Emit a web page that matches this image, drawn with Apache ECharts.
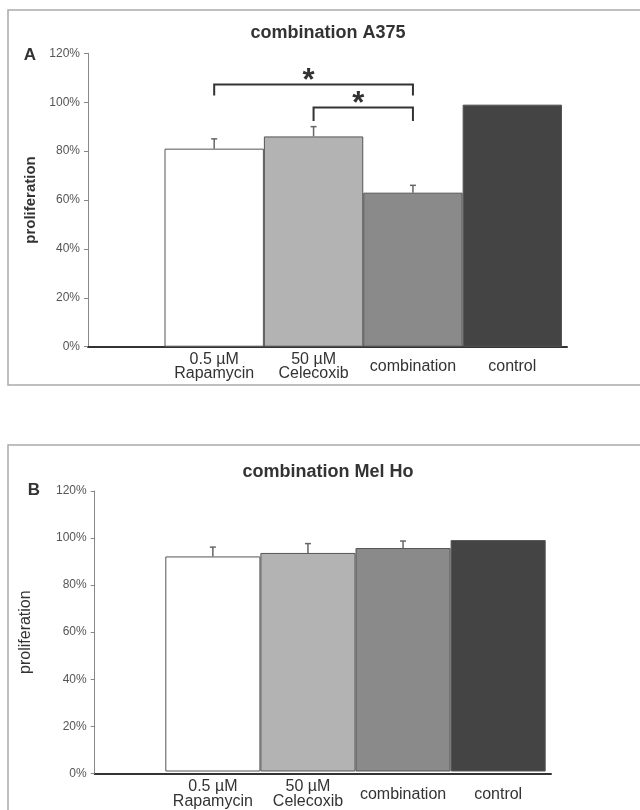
<!DOCTYPE html>
<html>
<head>
<meta charset="utf-8">
<style>
  html, body { margin: 0; padding: 0; background: #fff; }
  #chart { width: 640px; height: 810px; }
</style>
<script src="https://cdn.jsdelivr.net/npm/echarts@6/dist/echarts.min.js"></script>
</head>
<body>
<div id="chart"></div>
<script>
// Treatment groups (x axis)
const categories = ['0.5 µM\nRapamycin', '50 µM\nCelecoxib', 'combination', 'control'];
const yTicks = [0, 20, 40, 60, 80, 100, 120];

// Panel A: A375 cells, proliferation (% of control) and upper error
const a375Values = [81, 86, 63, 99];
const a375Errors = [4, 4, 3, 0];
// Significance brackets: [from group, to group, end level, bar level]
const a375Brackets = [[0, 2, 102.7, 107.2], [1, 2, 92.3, 97.8]];

// Panel B: Mel Ho cells
const melHoValues = [92, 93.5, 95.6, 99];
const melHoErrors = [4, 4, 3, 0];

const barColors = ['#ffffff', '#b3b3b3', '#8a8a8a', '#444444'];
const FONT = 'Liberation Sans, Arial, sans-serif';

const chart = echarts.init(document.getElementById('chart'));

function barData(values) {
  return values.map((v, i) => ({ value: v, itemStyle: { color: barColors[i] } }));
}

function errorRender(params, api) {
  const x = api.value(0);
  const v = api.value(1);
  const e = api.value(2);
  if (!e) return null;
  const p0 = api.coord([x, v]);
  const p1 = api.coord([x, v + e]);
  const style = { stroke: '#666', lineWidth: 1.5 };
  return {
    type: 'group',
    children: [
      { type: 'line', shape: { x1: p0[0], y1: p0[1], x2: p1[0], y2: p1[1] }, style },
      { type: 'line', shape: { x1: p1[0] - 3, y1: p1[1], x2: p1[0] + 3, y2: p1[1] }, style }
    ]
  };
}

function bracketRender(params, api) {
  const a = api.value(0), b = api.value(1), lo = api.value(2), hi = api.value(3);
  const pa = api.coord([a, lo]), pb = api.coord([b, lo]);
  const top = api.coord([a, hi])[1];
  return {
    type: 'group',
    children: [
      {
        type: 'polyline',
        shape: { points: [[pa[0], pa[1]], [pa[0], top], [pb[0], top], [pb[0], pb[1]]] },
        style: { stroke: '#333', lineWidth: 2, fill: null }
      },
      {
        type: 'text',
        x: (pa[0] + pb[0]) / 2 - 5,
        y: top - 3,
        style: {
          text: '*', fontSize: 31, fontWeight: 'bold', fontFamily: FONT,
          fill: '#333', align: 'center', verticalAlign: 'middle'
        }
      }
    ]
  };
}

// Panel geometry
const panels = [
  { top: 53.3, bottom: 346.7, axisLeft: 88, axisRight: 567, barLeft: 164.5, barRight: 562,
    labelMargin: 20, lineHeight: 14 },
  { top: 491, bottom: 773.3, axisLeft: 94.7, axisRight: 551, barLeft: 165.3, barRight: 545.7,
    labelMargin: 23, lineHeight: 15 }
];

const grids = [], xAxes = [], yAxes = [];
panels.forEach((p, k) => {
  // axis frame grid
  grids.push({ left: p.axisLeft, top: p.top, width: p.axisRight - p.axisLeft, height: p.bottom - p.top });
  // bar grid
  grids.push({ left: p.barLeft, top: p.top, width: p.barRight - p.barLeft, height: p.bottom - p.top });

  xAxes.push({
    gridIndex: 2 * k, type: 'value', min: 0, max: 1,
    axisLine: { show: true, lineStyle: { color: '#333', width: 2 } },
    axisTick: { show: false }, axisLabel: { show: false }, splitLine: { show: false }
  });
  xAxes.push({
    gridIndex: 2 * k + 1, type: 'category', data: categories,
    axisLine: { show: false }, axisTick: { show: false },
    axisLabel: {
      interval: 0, margin: p.labelMargin, color: '#333', fontFamily: FONT,
      fontSize: 16, lineHeight: p.lineHeight, verticalAlign: 'middle', align: 'center'
    }
  });
  yAxes.push({
    gridIndex: 2 * k, type: 'value', min: 0, max: 120, interval: 20,
    name: 'proliferation', nameLocation: 'middle', nameGap: k === 0 ? 50 : 61,
    nameTextStyle: { fontFamily: FONT, fontSize: k === 0 ? 15 : 16, fontWeight: k === 0 ? 'bold' : 'normal', color: '#333' },
    axisLine: { show: true, lineStyle: { color: '#888', width: 1 } },
    axisTick: { show: true, length: 4, inside: false, lineStyle: { color: '#888' } },
    axisLabel: { formatter: '{value}%', fontFamily: FONT, fontSize: 12, color: '#555', margin: 8 },
    splitLine: { show: false }
  });
  yAxes.push({
    gridIndex: 2 * k + 1, type: 'value', min: 0, max: 120, interval: 20, show: false
  });
});

const series = [
  {
    type: 'bar', xAxisIndex: 1, yAxisIndex: 1, data: barData(a375Values),
    barWidth: '100%', itemStyle: { borderColor: '#555', borderWidth: 1 }, silent: true
  },
  {
    type: 'custom', xAxisIndex: 1, yAxisIndex: 1, renderItem: errorRender,
    data: a375Values.map((v, i) => [i, v, a375Errors[i]]), z: 5
  },
  {
    type: 'custom', xAxisIndex: 1, yAxisIndex: 1, renderItem: bracketRender,
    data: a375Brackets, z: 6
  },
  {
    type: 'bar', xAxisIndex: 3, yAxisIndex: 3, data: barData(melHoValues),
    barWidth: '100%', itemStyle: { borderColor: '#555', borderWidth: 1 }, silent: true
  },
  {
    type: 'custom', xAxisIndex: 3, yAxisIndex: 3, renderItem: errorRender,
    data: melHoValues.map((v, i) => [i, v, melHoErrors[i]]), z: 5
  }
];

const titleStyle = {
  fontFamily: FONT, fontSize: 18, fontWeight: 'bold', fill: '#333',
  align: 'center', verticalAlign: 'middle'
};

chart.setOption({
  animation: false,
  backgroundColor: '#fff',
  graphic: [
    { type: 'rect', shape: { x: 8, y: 10, width: 640, height: 375 },
      style: { fill: null, stroke: '#aaa', lineWidth: 1.5 }, z: -1 },
    { type: 'rect', shape: { x: 8, y: 445, width: 640, height: 380 },
      style: { fill: null, stroke: '#aaa', lineWidth: 1.5 }, z: -1 },
    { type: 'text', x: 328, y: 33, style: Object.assign({ text: 'combination A375' }, titleStyle) },
    { type: 'text', x: 328, y: 472, style: Object.assign({ text: 'combination Mel Ho' }, titleStyle) },
    { type: 'text', x: 30, y: 55,
      style: { text: 'A', fontFamily: FONT, fontSize: 17, fontWeight: 'bold', fill: '#333', align: 'center', verticalAlign: 'middle' } },
    { type: 'text', x: 34, y: 490,
      style: { text: 'B', fontFamily: FONT, fontSize: 17, fontWeight: 'bold', fill: '#333', align: 'center', verticalAlign: 'middle' } }
  ],
  grid: grids,
  xAxis: xAxes,
  yAxis: yAxes,
  series: series
});
</script>
</body>
</html>
